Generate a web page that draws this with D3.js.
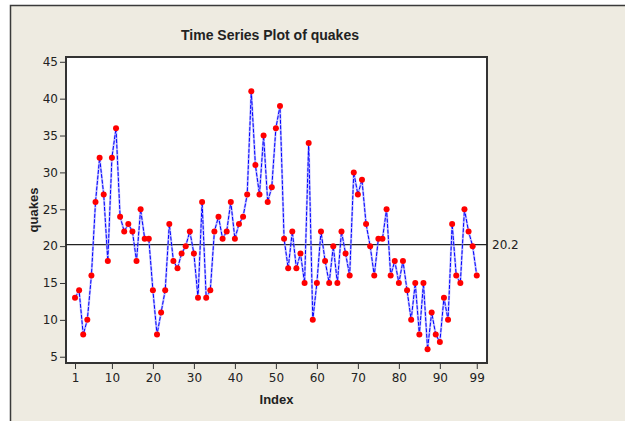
<!DOCTYPE html>
<html>
<head>
<meta charset="utf-8">
<script src="https://cdn.jsdelivr.net/npm/d3@7"></script>
<style>
  body { margin: 0; background: #ffffff; }
  svg { display: block; font-family: "Liberation Sans", Arial, sans-serif; }
</style>
</head>
<body>
<svg id="chart" width="625" height="421"></svg>
<script>
"use strict";

let width = 625;
let height = 421;

// number of major earthquakes per year, index 1..99
let quakes = [13, 14, 8, 10, 16, 26, 32, 27, 18, 32, 36, 24, 22, 23, 22, 18, 25, 21, 21, 14,
  8, 11, 14, 23, 18, 17, 19, 20, 22, 19, 13, 26, 13, 14, 22, 24, 21, 22, 26, 21,
  23, 24, 27, 41, 31, 27, 35, 26, 28, 36, 39, 21, 17, 22, 17, 19, 15, 34, 10, 15,
  22, 18, 15, 20, 15, 22, 19, 16, 30, 27, 29, 23, 20, 16, 21, 21, 25, 16, 18, 15,
  18, 14, 10, 15, 8, 15, 6, 11, 8, 7, 13, 10, 23, 16, 15, 25, 22, 20, 16];
let xTicks = [1, 10, 20, 30, 40, 50, 60, 70, 80, 90, 99];
let yTicks = [5, 10, 15, 20, 25, 30, 35, 40, 45];
let refValue = 20.2;
let refLabel = "20.2";

let plot = { left: 66, right: 487, top: 57, bottom: 363 };

let svg = d3.select('#chart');

// outer panel
svg.append('rect')
  .attr('x', 10.5).attr('y', 5.5)
  .attr('width', width).attr('height', height)
  .style('fill', '#eeebe1')
  .style('stroke', '#3a3a3a')
  .style('stroke-width', 1.5);

// Scales
let x = d3.scaleLinear()
  .domain([-1.2, 101.5])
  .range([plot.left, plot.right]);
let y = d3.scaleLinear()
  .domain([4.15, 45.65])
  .range([plot.bottom, plot.top]);

// plot area
svg.append('rect')
  .attr('x', plot.left).attr('y', plot.top)
  .attr('width', plot.right - plot.left)
  .attr('height', plot.bottom - plot.top)
  .style('fill', '#ffffff')
  .style('stroke', '#333')
  .style('stroke-width', 2);

// Axes
let xAxis = svg.append('g')
  .attr('transform', `translate(0,${plot.bottom + 1})`)
  .call(d3.axisBottom(x).tickValues(xTicks).tickSize(5).tickPadding(4));
let yAxis = svg.append('g')
  .attr('transform', `translate(${plot.left - 1},0)`)
  .call(d3.axisLeft(y).tickValues(yTicks).tickSize(5).tickPadding(2));

[xAxis, yAxis].forEach(function(a) {
  a.select('.domain').remove();
  a.selectAll('.tick line').style('stroke', '#333');
  a.selectAll('.tick text')
    .style('font-size', '12px')
    .style('font-family', '"DejaVu Sans", sans-serif')
    .style('fill', '#222');
});

// reference line at mean
svg.append('line')
  .attr('x1', plot.left).attr('x2', plot.right)
  .attr('y1', y(refValue)).attr('y2', y(refValue))
  .style('stroke', '#222')
  .style('stroke-width', 1.2);

svg.append('text')
  .attr('x', plot.right + 5)
  .attr('y', y(refValue) + 4)
  .style('font-size', '12px')
  .style('font-family', '"DejaVu Sans", sans-serif')
  .style('fill', '#222')
  .text(refLabel);

// series line
let line = d3.line()
  .x(function(d, i) { return x(i + 1); })
  .y(function(d) { return y(d); });

svg.append('path')
  .datum(quakes)
  .attr('d', line)
  .style('fill', 'none')
  .style('stroke', '#8c8cff')
  .style('stroke-width', 2.2)
  .style('opacity', 0.55);
svg.append('path')
  .datum(quakes)
  .attr('d', line)
  .style('fill', 'none')
  .style('stroke', '#0000ff')
  .style('stroke-width', 1)
  .style('stroke-dasharray', '4,1.5');

// points
svg.selectAll('circle.pt')
  .data(quakes)
  .enter()
  .append('circle')
  .attr('class', 'pt')
  .attr('cx', function(d, i) { return x(i + 1); })
  .attr('cy', function(d) { return y(d); })
  .attr('r', 3)
  .style('fill', '#ff0000');

// Titles
svg.append('text')
  .attr('x', 270)
  .attr('y', 40)
  .attr('text-anchor', 'middle')
  .style('font-size', '14px')
  .style('font-weight', 'bold')
  .style('fill', '#222')
  .text('Time Series Plot of quakes');

svg.append('text')
  .attr('x', (plot.left + plot.right) / 2)
  .attr('y', 404)
  .attr('text-anchor', 'middle')
  .style('font-size', '13px')
  .style('font-weight', 'bold')
  .style('fill', '#222')
  .text('Index');

svg.append('text')
  .attr('transform', `translate(38,${(plot.top + plot.bottom) / 2}) rotate(-90)`)
  .attr('text-anchor', 'middle')
  .style('font-size', '13px')
  .style('font-weight', 'bold')
  .style('fill', '#222')
  .text('quakes');
</script>
</body>
</html>
